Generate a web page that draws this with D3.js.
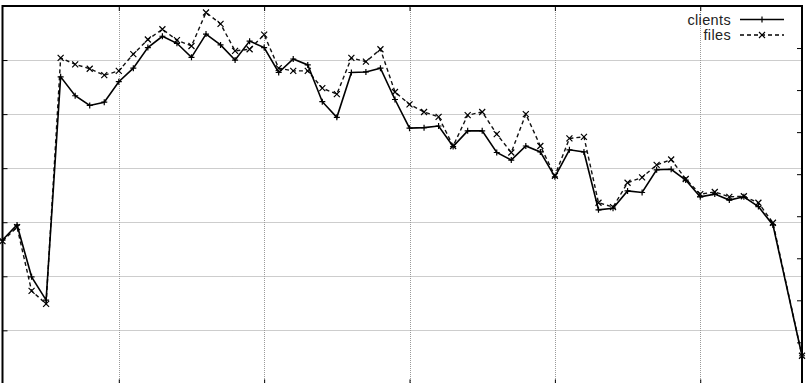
<!DOCTYPE html>
<html>
<head>
<meta charset="utf-8">
<script src="https://cdn.jsdelivr.net/npm/d3@7"></script>
<style>
  html, body { margin: 0; padding: 0; background: #fff; }
  svg { display: block; }
</style>
</head>
<body>
<svg id="chart" width="808" height="383"></svg>
<script>
// ---- data (y in grid units) ----
const xIndex = [0,1,2,3,4,5,6,7,8,9,10,11,12,13,14,15,16,17,18,19,20,21,22,23,24,25,26,27,28,29,30,31,32,33,34,35,36,37,38,39,40,41,42,43,44,45,46,47,48,49,50,51,52,53,55];
const clients = [2.67,2.95,1.99,1.56,5.69,5.34,5.16,5.22,5.60,5.85,6.23,6.44,6.31,6.05,6.48,6.28,6.00,6.35,6.23,5.77,6.02,5.91,5.23,4.94,5.77,5.78,5.85,5.27,4.74,4.75,4.78,4.40,4.69,4.69,4.29,4.15,4.41,4.30,3.84,4.34,4.30,3.23,3.26,3.58,3.55,3.97,3.98,3.78,3.47,3.52,3.41,3.47,3.29,2.95,0.53];
const files   = [2.65,2.91,1.73,1.49,6.04,5.92,5.84,5.72,5.80,6.11,6.38,6.57,6.37,6.26,6.88,6.67,6.17,6.20,6.47,5.85,5.80,5.80,5.48,5.37,6.04,5.97,6.20,5.41,5.18,5.04,4.95,4.41,4.98,5.04,4.63,4.29,5.00,4.41,3.86,4.55,4.58,3.36,3.28,3.73,3.83,4.06,4.16,3.80,3.52,3.56,3.47,3.48,3.36,2.99,0.53];
const seriesNames = ["clients", "files"];
const xTicks = [8, 18, 28, 38, 48];
const yTicks = [1, 2, 3, 4, 5, 6];
const y2Ticks = [1, 2, 3, 4, 5, 6, 7, 8];

// ---- layout ----
const svg = d3.select("#chart");
const L = 2.5, R = 802, T = 6, B = 384.4;

const x = d3.scaleLinear().domain([0, 55]).range([L, R]);
const y = d3.scaleLinear().domain([0, 7]).range([B, T]);
const y2 = d3.scaleLinear().domain([0, 9]).range([B, T]);

svg.append("rect").attr("width", 808).attr("height", 383).attr("fill", "#fff");

// grid
const grid = svg.append("g").attr("stroke", "#9a9a9a").attr("stroke-width", 1).attr("stroke-dasharray", "1,1");
grid.selectAll("line.v").data(xTicks).join("line").attr("class", "v")
  .attr("x1", d => Math.round(x(d)) + 0.5).attr("x2", d => Math.round(x(d)) + 0.5)
  .attr("y1", T).attr("y2", B);
grid.selectAll("line.h").data(yTicks).join("line").attr("class", "h")
  .attr("y1", d => Math.round(y(d)) + 0.5).attr("y2", d => Math.round(y(d)) + 0.5)
  .attr("x1", L).attr("x2", R);

// axes with inward ticks
const axL = d3.axisRight(y).tickValues(yTicks).tickSize(5).tickFormat("");
const gL = svg.append("g").attr("transform", `translate(${L},0)`).call(axL);
const axR = d3.axisLeft(y2).tickValues(y2Ticks).tickSize(5).tickFormat("");
const gR = svg.append("g").attr("transform", `translate(${R},0)`).call(axR);
const axB = d3.axisTop(x).tickValues(xTicks).tickSize(5).tickFormat("");
const gB = svg.append("g").attr("transform", `translate(0,${B})`).call(axB);
const axT = d3.axisBottom(x).tickValues(xTicks).tickSize(5).tickFormat("");
const gT = svg.append("g").attr("transform", `translate(0,${T})`).call(axT);
[gL, gR, gB, gT].forEach(g => {
  g.select(".domain").remove();
  g.selectAll(".tick line").attr("stroke", "#000").attr("stroke-width", 1);
});

// border
svg.append("rect").attr("x", L).attr("y", T).attr("width", R - L).attr("height", B - T)
  .attr("fill", "none").attr("stroke", "#000").attr("stroke-width", 2);

// series
const line = d3.line().x(d => x(d[0])).y(d => y(d[1]));
const cData = xIndex.map((d, i) => [d, clients[i]]);
const fData = xIndex.map((d, i) => [d, files[i]]);

function plus(g, px, py, s) {
  g.append("path").attr("d", `M${px - s},${py}H${px + s}M${px},${py - s}V${py + s}`)
    .attr("stroke", "#000").attr("stroke-width", 1.2).attr("fill", "none");
}
function cross(g, px, py, s) {
  g.append("path").attr("d", `M${px - s},${py - s}L${px + s},${py + s}M${px - s},${py + s}L${px + s},${py - s}`)
    .attr("stroke", "#000").attr("stroke-width", 1.2).attr("fill", "none");
}

svg.append("path").datum(fData).attr("d", line).attr("fill", "none")
  .attr("stroke", "#111").attr("stroke-width", 1.4).attr("stroke-dasharray", "4,3");
const fm = svg.append("g");
fData.forEach(d => cross(fm, x(d[0]), y(d[1]), 3));

svg.append("path").datum(cData).attr("d", line).attr("fill", "none")
  .attr("stroke", "#000").attr("stroke-width", 1.6);
const cm = svg.append("g");
cData.forEach(d => plus(cm, x(d[0]), y(d[1]), 3));

// legend
const lg = svg.append("g");
const legY = [19.5, 35];
seriesNames.forEach((name, i) => {
  lg.append("text").attr("x", 731).attr("y", legY[i] + 5.3).attr("text-anchor", "end")
    .attr("font-family", "Liberation Sans, Arial, sans-serif").attr("font-size", 14.5)
    .attr("letter-spacing", 0.35)
    .attr("fill", "#222").text(name);
  lg.append("line").attr("x1", 740).attr("x2", 784).attr("y1", legY[i]).attr("y2", legY[i])
    .attr("stroke", "#000").attr("stroke-width", i === 0 ? 1.6 : 1.4)
    .attr("stroke-dasharray", i === 0 ? null : "4,3");
  if (i === 0) plus(lg, 762, legY[i], 3); else cross(lg, 762, legY[i], 3);
});
</script>
</body>
</html>
